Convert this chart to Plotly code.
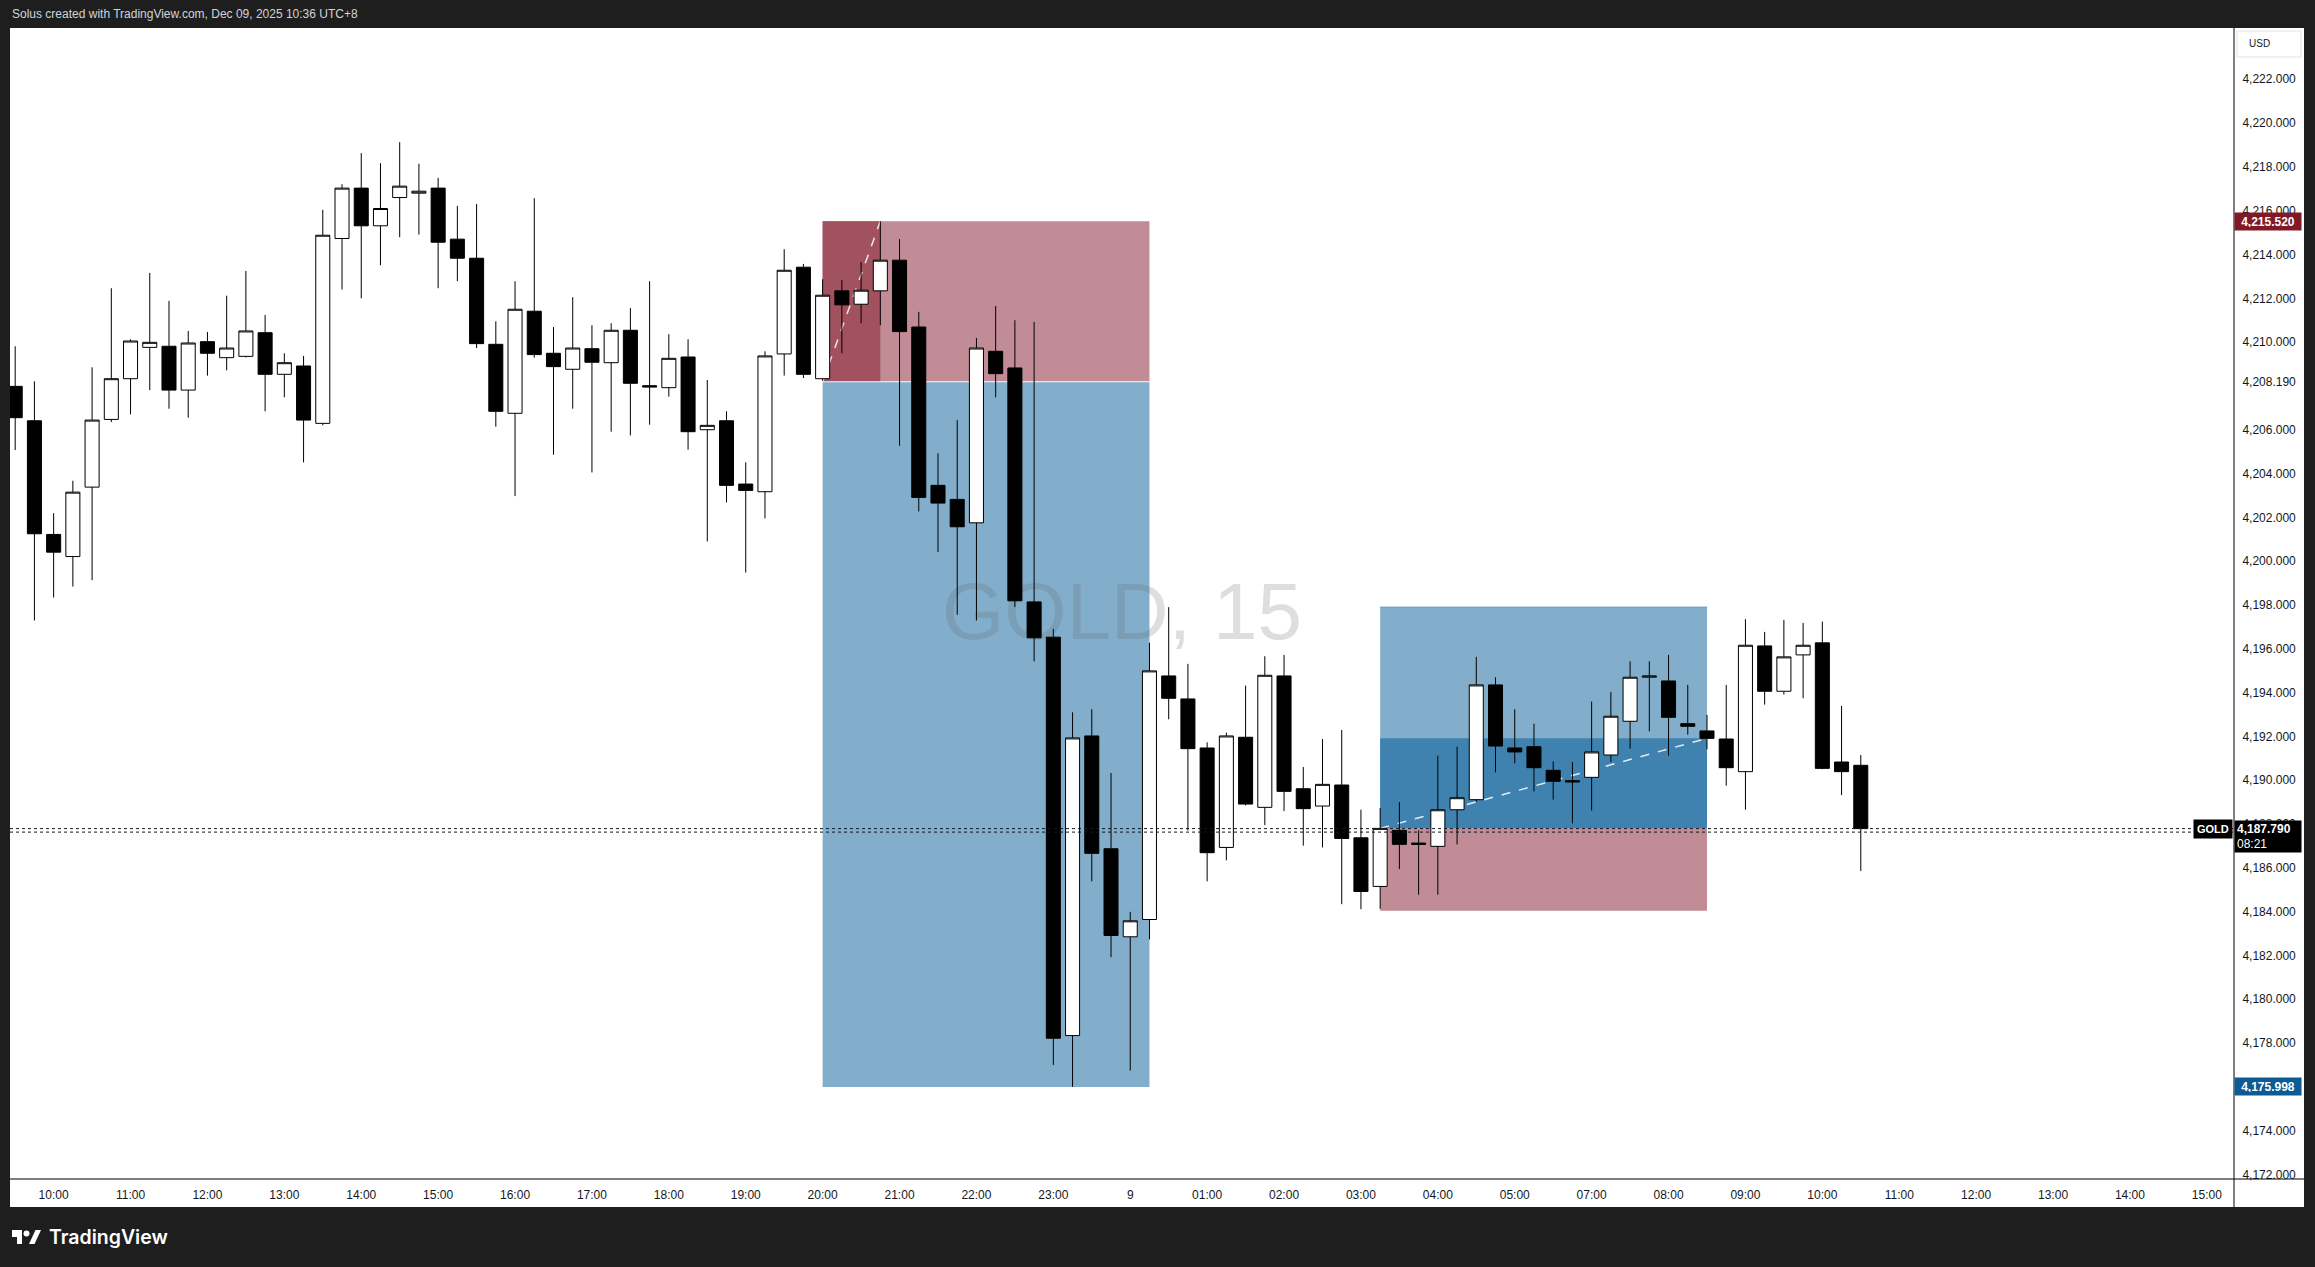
import plotly.graph_objects as go

# ---------------- data (GOLD, 15 min, Dec 8 09:30 -> Dec 9 10:30, UTC+8) ----------------
opens = [4207.98, 4206.41, 4201.22, 4200.21, 4203.38, 4206.47, 4208.33, 4209.76, 4209.81, 4207.81,
         4210.02, 4209.29, 4209.35, 4210.43, 4208.53, 4208.91, 4206.29, 4214.73, 4217.03, 4215.31,
         4216.60, 4216.80, 4217.03, 4214.70, 4213.83, 4209.90, 4206.75, 4211.41, 4209.49, 4208.76,
         4209.70, 4209.06, 4210.54, 4208.01, 4207.92, 4209.32, 4206.00, 4206.41, 4203.52, 4203.17,
         4209.46, 4213.42, 4208.33, 4212.34, 4211.73, 4212.34, 4213.74, 4210.69, 4203.46, 4202.82,
         4201.75, 4209.58, 4208.82, 4198.14, 4196.53, 4178.34, 4192.02, 4186.87, 4182.85, 4183.64,
         4194.76, 4193.71, 4191.47, 4186.93, 4191.96, 4188.76, 4194.76, 4189.61, 4188.82, 4189.78,
         4187.37, 4185.15, 4187.71, 4187.13, 4186.98, 4188.65, 4189.11, 4194.35, 4191.47, 4191.53,
         4190.45, 4189.98, 4190.13, 4191.15, 4192.69, 4194.70, 4194.53, 4192.58, 4192.25, 4191.88,
         4190.39, 4196.13, 4194.06, 4195.72, 4196.27, 4190.83, 4190.68]
highs = [4209.81, 4208.21, 4202.19, 4203.67, 4208.85, 4212.46, 4210.13, 4213.16, 4211.88, 4210.51,
         4210.46, 4212.12, 4213.25, 4211.24, 4209.49, 4209.37, 4216.04, 4217.21, 4218.63, 4218.17,
         4219.13, 4218.14, 4217.50, 4216.22, 4216.30, 4210.95, 4212.78, 4216.57, 4210.69, 4212.05,
         4210.77, 4210.86, 4211.56, 4212.78, 4210.36, 4210.13, 4208.27, 4206.84, 4204.51, 4209.58,
         4214.24, 4213.57, 4212.87, 4212.84, 4213.66, 4215.52, 4214.70, 4211.38, 4204.92, 4206.44,
         4210.19, 4211.65, 4211.00, 4210.92, 4196.91, 4193.10, 4193.24, 4190.33, 4183.99, 4196.27,
         4197.90, 4195.31, 4191.73, 4192.17, 4194.32, 4195.66, 4195.72, 4190.60, 4191.88, 4192.29,
         4188.65, 4188.73, 4189.00, 4187.71, 4191.12, 4191.53, 4195.63, 4194.70, 4193.24, 4192.58,
         4190.86, 4190.83, 4193.59, 4194.03, 4195.43, 4195.43, 4195.72, 4194.35, 4192.98, 4194.35,
         4197.35, 4196.77, 4197.32, 4197.18, 4197.24, 4193.39, 4191.15]
lows = [4205.07, 4197.29, 4198.34, 4198.84, 4199.13, 4206.35, 4206.70, 4207.81, 4206.96, 4206.55,
        4208.47, 4208.71, 4209.30, 4206.84, 4207.48, 4204.51, 4206.20, 4212.40, 4212.00, 4213.51,
        4214.79, 4214.91, 4212.46, 4212.78, 4209.73, 4206.14, 4202.97, 4209.29, 4204.86, 4206.96,
        4204.05, 4205.91, 4205.74, 4206.23, 4207.51, 4205.09, 4200.90, 4202.68, 4199.48, 4201.95,
        4208.47, 4208.36, 4208.24, 4209.49, 4210.86, 4210.77, 4205.27, 4202.27, 4200.41, 4197.55,
        4197.29, 4207.48, 4197.90, 4195.43, 4177.00, 4176.00, 4185.38, 4181.92, 4176.74, 4182.73,
        4192.78, 4187.71, 4185.38, 4186.34, 4188.85, 4187.95, 4188.59, 4187.01, 4186.93, 4184.34,
        4184.11, 4184.13, 4185.94, 4184.77, 4184.77, 4187.07, 4189.02, 4190.36, 4190.77, 4189.49,
        4189.11, 4188.03, 4188.62, 4190.83, 4191.44, 4192.23, 4191.12, 4192.08, 4191.41, 4189.75,
        4188.65, 4193.45, 4193.91, 4193.74, 4190.50, 4189.32, 4185.85]
closes = [4206.55, 4201.25, 4200.41, 4203.15, 4206.44, 4208.33, 4210.05, 4209.99, 4207.81, 4209.96,
          4209.49, 4209.73, 4210.51, 4208.53, 4209.06, 4206.44, 4214.88, 4217.03, 4215.31, 4216.10,
          4217.12, 4216.89, 4214.56, 4213.83, 4209.93, 4206.84, 4211.50, 4209.43, 4208.88, 4209.73,
          4209.08, 4210.54, 4208.12, 4207.95, 4209.26, 4205.91, 4206.20, 4203.46, 4203.23, 4209.37,
          4213.28, 4208.53, 4212.14, 4211.70, 4212.37, 4213.74, 4210.48, 4202.91, 4202.65, 4201.57,
          4209.73, 4208.56, 4198.19, 4196.50, 4178.22, 4191.93, 4186.66, 4182.91, 4183.58, 4194.99,
          4193.74, 4191.44, 4186.69, 4192.02, 4188.91, 4194.79, 4189.49, 4188.70, 4189.81, 4187.34,
          4184.92, 4187.80, 4187.07, 4187.07, 4188.65, 4189.20, 4194.35, 4191.56, 4191.29, 4190.57,
          4189.95, 4189.92, 4191.29, 4192.92, 4194.70, 4194.76, 4192.87, 4192.46, 4191.91, 4190.57,
          4196.16, 4194.06, 4195.63, 4196.16, 4190.54, 4190.39, 4187.79]

# time-axis labels (bar index of each label, 15-min bars, 06:00-07:00 break)
time_tick_bars = [2, 6, 10, 14, 18, 22, 26, 30, 34, 38, 42, 46, 50, 54, 58, 62, 66, 70, 74, 78,
                  82, 86, 90, 94, 98, 102, 106, 110, 114]
time_tick_labels = ["10:00", "11:00", "12:00", "13:00", "14:00", "15:00", "16:00", "17:00", "18:00",
                    "19:00", "20:00", "21:00", "22:00", "23:00", "9", "01:00", "02:00", "03:00",
                    "04:00", "05:00", "07:00", "08:00", "09:00", "10:00", "11:00", "12:00", "13:00",
                    "14:00", "15:00"]
price_ticks = [4172, 4174, 4176, 4178, 4180, 4182, 4184, 4186, 4188, 4190, 4192, 4194, 4196, 4198,
               4200, 4202, 4204, 4206, 4208.19, 4210, 4212, 4214, 4216, 4218, 4220, 4222]

# position tools
short_start, short_end, short_hit_bar = 42, 59, 45
short_entry, short_stop, short_target = 4208.19, 4215.52, 4175.998
long_start, long_end = 71, 88
long_entry, long_target, long_stop, long_last = 4187.80, 4197.90, 4184.04, 4191.91

last_price = 4187.79
second_price = 4187.63
countdown = "08:21"
symbol = "GOLD"
watermark = "GOLD, 15"
header_text = "Solus created with TradingView.com, Dec 09, 2025 10:36 UTC+8"

# ---------------- layout geometry ----------------
W, H = 2315, 1267
ML, MR, MT, MB = 10, 81, 28, 88
PW, PH = W - ML - MR, H - MT - MB
BAR_PX = 19.225
PRICE_PX = 21.904
x_left = -0.27
x_right = x_left + PW / BAR_PX
y_top = short_stop + (221.2 - MT) / PRICE_PX
y_bottom = y_top - PH / PRICE_PX

DARK = "#1e1e1e"
TXT = "#131722"
FONT = "Liberation Sans, Arial, sans-serif"


def px(xp):
    return (xp - ML) / PW


def py(yp):
    return (H - MB - yp) / PH


xs = list(range(len(opens)))

fig = go.Figure()
fig.add_trace(go.Candlestick(
    x=xs, open=opens, high=highs, low=lows, close=closes,
    increasing=dict(line=dict(color="#000000", width=1), fillcolor="#ffffff"),
    decreasing=dict(line=dict(color="#000000", width=1), fillcolor="#000000"),
    whiskerwidth=0, hoverinfo="skip", showlegend=False,
))

shapes = []
# white axis strips
shapes.append(dict(type="rect", xref="paper", yref="paper", x0=px(ML), x1=px(2304), y0=py(1207), y1=py(1179),
                   fillcolor="white", line=dict(width=0), layer="below"))
shapes.append(dict(type="rect", xref="paper", yref="paper", x0=px(2234), x1=px(2304), y0=py(1207), y1=py(MT),
                   fillcolor="white", line=dict(width=0), layer="below"))

# short position
LB, DB, LR, DR = "#82aecb", "#3f82b0", "#c18c95", "#a1525e"
shapes += [
    dict(type="rect", xref="x", yref="y", x0=short_start, x1=short_end, y0=short_target, y1=short_entry,
         fillcolor=LB, line=dict(width=0), layer="below"),
    dict(type="rect", xref="x", yref="y", x0=short_start, x1=short_end, y0=short_entry, y1=short_stop,
         fillcolor=LR, line=dict(width=0), layer="below"),
    dict(type="rect", xref="x", yref="y", x0=short_start, x1=short_hit_bar, y0=short_entry, y1=short_stop,
         fillcolor=DR, line=dict(width=0), layer="below"),
    dict(type="line", xref="x", yref="y", x0=short_start, x1=short_end, y0=short_entry, y1=short_entry,
         line=dict(color="rgba(255,255,255,0.9)", width=1), layer="below"),
    dict(type="line", xref="x", yref="y", x0=short_start, x1=short_hit_bar, y0=short_entry, y1=short_stop,
         line=dict(color="rgba(255,255,255,0.85)", width=1.5, dash="dash"), layer="below"),
]
# long position
shapes += [
    dict(type="rect", xref="x", yref="y", x0=long_start, x1=long_end, y0=long_entry, y1=long_target,
         fillcolor=LB, line=dict(width=0), layer="below"),
    dict(type="rect", xref="x", yref="y", x0=long_start, x1=long_end, y0=long_entry, y1=long_last,
         fillcolor=DB, line=dict(width=0), layer="below"),
    dict(type="rect", xref="x", yref="y", x0=long_start, x1=long_end, y0=long_stop, y1=long_entry,
         fillcolor=LR, line=dict(width=0), layer="below"),
    dict(type="line", xref="x", yref="y", x0=long_start, x1=long_end, y0=long_target, y1=long_target,
         line=dict(color="#5b93bd", width=1), layer="below"),
    dict(type="line", xref="x", yref="y", x0=long_start, x1=long_end, y0=long_entry, y1=long_last,
         line=dict(color="rgba(255,255,255,0.85)", width=1.5, dash="dash"), layer="below"),
]
# watermark (above drawings, below candles): full-pane transparent rect with a centred label
shapes.append(dict(type="rect", xref="x", yref="y", x0=x_left, x1=x_right, y0=y_bottom, y1=y_top,
                   fillcolor="rgba(0,0,0,0)", line=dict(width=0), layer="below",
                   label=dict(text=watermark, textposition="middle center",
                              font=dict(size=80, color="rgba(100,104,115,0.22)", family=FONT))))
# current price dotted lines
for pr in (last_price, second_price):
    shapes.append(dict(type="line", xref="paper", yref="y", x0=0, x1=1, y0=pr, y1=pr,
                       line=dict(color=TXT, width=1, dash="dot"), layer="above"))
# axis separator lines
shapes.append(dict(type="line", xref="paper", yref="paper", x0=px(2234), x1=px(2234), y0=py(1207), y1=py(MT),
                   line=dict(color="#000000", width=1), layer="above"))
shapes.append(dict(type="line", xref="paper", yref="paper", x0=px(ML), x1=px(2304), y0=py(1179), y1=py(1179),
                   line=dict(color="#000000", width=1), layer="above"))
# USD box
shapes.append(dict(type="rect", xref="paper", yref="paper", x0=px(2237), x1=px(2301), y0=py(57), y1=py(31),
                   fillcolor="white", line=dict(color="#e0e3eb", width=1), layer="above"))
# TradingView logo
shapes += [
    dict(type="rect", xref="paper", yref="paper", x0=px(12), x1=px(22), y0=py(1237), y1=py(1230),
         fillcolor="white", line=dict(width=0)),
    dict(type="rect", xref="paper", yref="paper", x0=px(17), x1=px(22), y0=py(1244), y1=py(1230),
         fillcolor="white", line=dict(width=0)),
    dict(type="circle", xref="paper", yref="paper", x0=px(23.5), x1=px(29.5), y0=py(1236.5), y1=py(1230.5),
         fillcolor="white", line=dict(width=0)),
    dict(type="path", xref="paper", yref="paper",
         path=f"M {px(29)},{py(1244)} L {px(34.5)},{py(1244)} L {px(41)},{py(1230)} L {px(35.5)},{py(1230)} Z",
         fillcolor="white", line=dict(width=0)),
]

annotations = [
    dict(text=header_text, xref="paper", yref="paper", x=px(10), y=py(14), xanchor="left", yanchor="middle",
         showarrow=False, font=dict(size=12, color="#d1d4dc", family=FONT)),
    dict(text="TradingView", xref="paper", yref="paper", x=px(47), y=py(1237), xanchor="left", yanchor="middle",
         showarrow=False, font=dict(size=19.5, color="white", family="Inter, Roboto, sans-serif", weight=600)),
    dict(text="USD", xref="paper", yref="paper", x=px(2247), y=py(44), xanchor="left", yanchor="middle",
         showarrow=False, font=dict(size=10, color=TXT, family=FONT)),
    dict(text=f"<b>{short_stop:,.3f}</b>", xref="paper", yref="y", x=px(2234), y=short_stop,
         xanchor="left", yanchor="middle", showarrow=False, bgcolor="#801a27", width=60, height=11,
         borderpad=3, font=dict(size=12, color="white", family=FONT)),
    dict(text=f"<b>{short_target:,.3f}</b>", xref="paper", yref="y", x=px(2234), y=short_target,
         xanchor="left", yanchor="middle", showarrow=False, bgcolor="#0d5b93", width=60, height=11,
         borderpad=3, font=dict(size=12, color="white", family=FONT)),
    dict(text=f"<b>{last_price:,.3f}</b><br>{countdown}", xref="paper", yref="y", x=px(2234), y=last_price,
         xanchor="left", yanchor="top", yshift=9, showarrow=False, bgcolor="#000000", width=62, height=27,
         borderpad=2, align="left", font=dict(size=12, color="white", family=FONT)),
    dict(text=f"<b>{symbol}</b>", xref="paper", yref="y", x=px(2233), y=last_price, xanchor="right",
         yanchor="middle", showarrow=False, bgcolor="#000000", borderpad=3,
         font=dict(size=11, color="white", family=FONT)),
]

fig.update_layout(
    width=W, height=H,
    margin=dict(l=ML, r=MR, t=MT, b=MB, autoexpand=False),
    paper_bgcolor=DARK, plot_bgcolor="white",
    showlegend=False, boxgap=0.27, boxgroupgap=0,
    shapes=shapes, annotations=annotations,
    xaxis=dict(range=[x_left, x_right], showgrid=False, zeroline=False, rangeslider=dict(visible=False),
               tickmode="array", tickvals=time_tick_bars, ticktext=time_tick_labels,
               ticks="outside", ticklen=5, tickcolor="rgba(0,0,0,0)",
               tickfont=dict(size=12, color=TXT, family=FONT), showline=False, fixedrange=True),
    yaxis=dict(range=[y_bottom, y_top], side="right", showgrid=False, zeroline=False,
               tickmode="array", tickvals=price_ticks, ticktext=[f"{v:,.3f}" for v in price_ticks],
               ticks="outside", ticklen=5, tickcolor="rgba(0,0,0,0)",
               tickfont=dict(size=12, color=TXT, family=FONT), showline=False, fixedrange=True),
)

fig.write_html("out.html", config={"displayModeBar": False},
               post_script="document.body.style.margin='0';document.body.style.background='#1e1e1e';")
